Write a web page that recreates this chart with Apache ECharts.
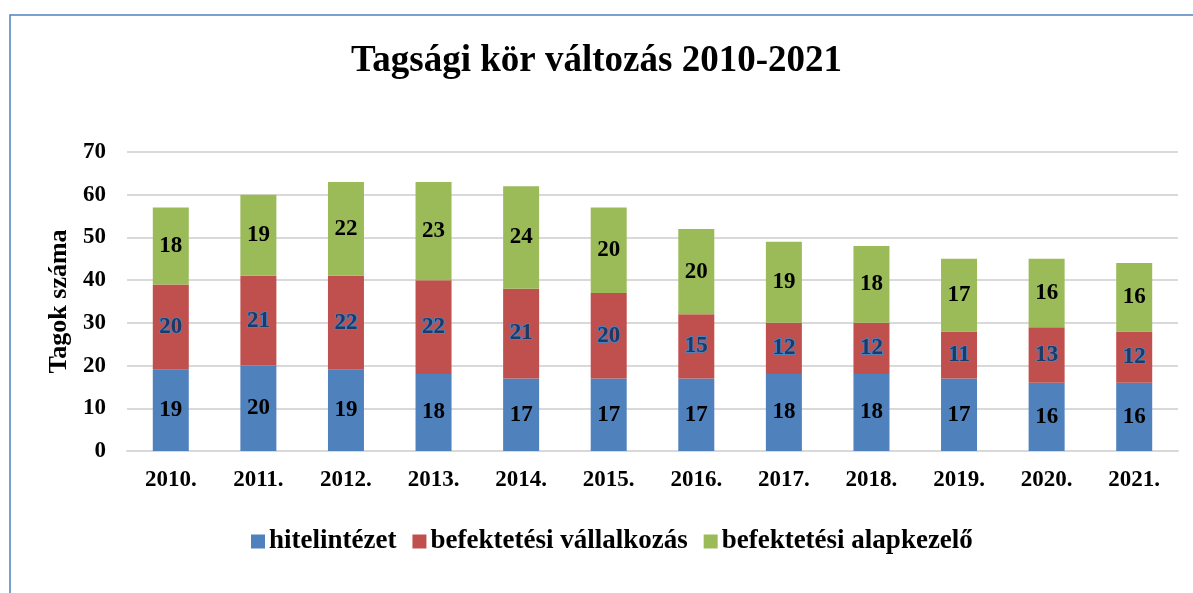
<!DOCTYPE html>
<html><head><meta charset="utf-8">
<script src="https://cdn.jsdelivr.net/npm/echarts@6/dist/echarts.min.js"></script>
<style>html,body{margin:0;padding:0;background:#fff}#c{width:1193px;height:593px}</style>
</head><body><div id="c"></div>
<script>
const categories = ['2010.','2011.','2012.','2013.','2014.','2015.','2016.','2017.','2018.','2019.','2020.','2021.'];
const hitelintezet = [19,20,19,18,17,17,17,18,18,17,16,16];
const befVallalkozas = [20,21,22,22,21,20,15,12,12,11,13,12];
const befAlapkezelo = [18,19,22,23,24,20,20,19,18,17,16,16];
const seriesNames = ['hitelintézet','befektetési vállalkozás','befektetési alapkezelő'];
const yTicks = [0,10,20,30,40,50,60,70];

const font = '"Liberation Serif","Times New Roman",serif';
const chart = echarts.init(document.getElementById('c'));
function lbl(extra){
  return Object.assign({show:true,position:'inside',fontFamily:font,fontWeight:'bold',fontSize:23,color:'#000'},extra||{});
}
chart.setOption({
  animation:false,
  backgroundColor:'#fff',
  graphic:[{type:'rect',shape:{x:10,y:15,width:1200,height:600},style:{fill:'none',stroke:'#4f81bd',lineWidth:1.5},silent:true}],
  title:{text:'Tagsági kör változás 2010-2021',left:'center',top:38,textStyle:{fontFamily:font,fontWeight:'bold',fontSize:37,color:'#000'}},
  legend:{bottom:33,left:246,itemWidth:14,itemHeight:14,itemGap:16,icon:'rect',
    textStyle:{fontFamily:font,fontWeight:'bold',fontSize:27,color:'#000',padding:[0,0,0,-1]}},
  grid:{left:127,right:15,top:152,bottom:142},
  xAxis:{type:'category',data:categories,
    axisLine:{lineStyle:{color:'#d9d9d9',width:2}},axisTick:{show:false},
    axisLabel:{fontFamily:font,fontWeight:'bold',fontSize:23,color:'#000',margin:18}},
  yAxis:{type:'value',min:yTicks[0],max:yTicks[yTicks.length-1],interval:10,
    name:'Tagok száma',nameLocation:'middle',nameGap:52,
    nameTextStyle:{fontFamily:font,fontWeight:'bold',fontSize:26,color:'#000'},
    axisLine:{show:false},axisTick:{show:false},
    axisLabel:{fontFamily:font,fontWeight:'bold',fontSize:23,color:'#000',margin:21},
    splitLine:{lineStyle:{color:'#d9d9d9',width:2}}},
  series:[
    {name:seriesNames[0],type:'bar',stack:'t',data:hitelintezet,barWidth:36,itemStyle:{color:'#4f81bd'},label:lbl()},
    {name:seriesNames[1],type:'bar',stack:'t',data:befVallalkozas,barWidth:36,itemStyle:{color:'#c0504d'},
      label:lbl({color:'#1f3864',textBorderColor:'#4f81bd',textBorderWidth:2})},
    {name:seriesNames[2],type:'bar',stack:'t',data:befAlapkezelo,barWidth:36,itemStyle:{color:'#9bbb59'},label:lbl()}
  ]
});
</script></body></html>
